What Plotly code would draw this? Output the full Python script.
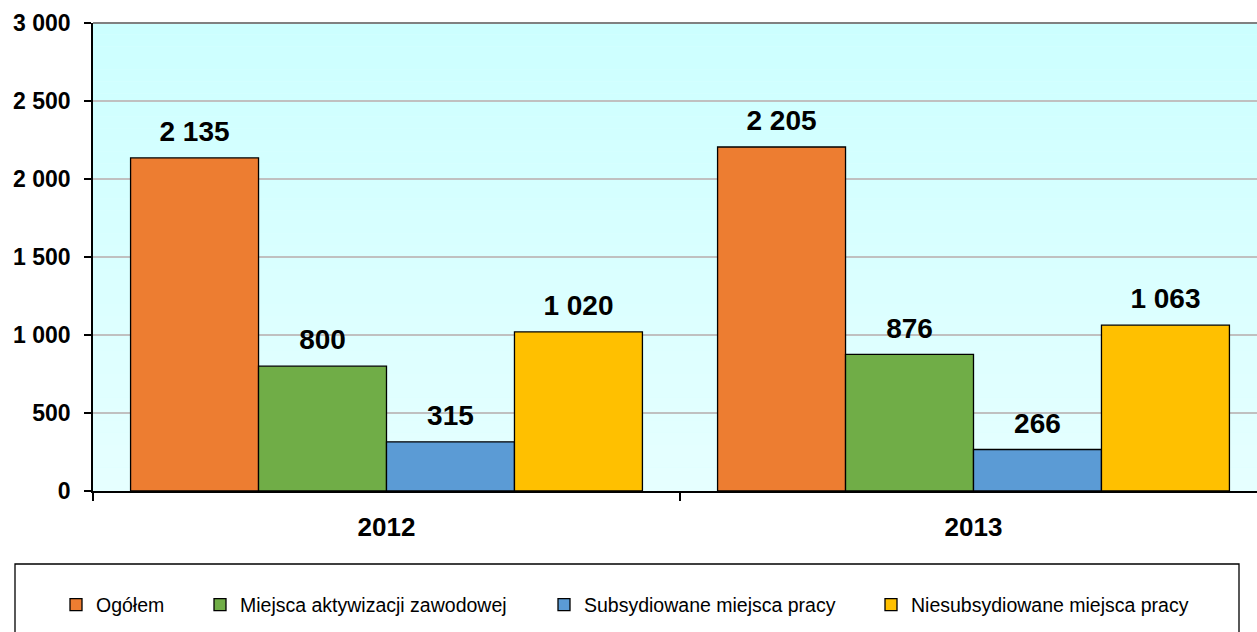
import plotly.graph_objects as go

categories = ["2012", "2013"]
series_names = ["Ogółem", "Miejsca aktywizacji zawodowej", "Subsydiowane miejsca pracy", "Niesubsydiowane miejsca pracy"]
ogolem = [2135, 2205]
aktywizacja = [800, 876]
subsydiowane = [315, 266]
niesubsydiowane = [1020, 1063]
series_values = [ogolem, aktywizacja, subsydiowane, niesubsydiowane]
colors = ["#ED7D31", "#70AD47", "#5B9BD5", "#FFC000"]
y_ticks = [0, 500, 1000, 1500, 2000, 2500, 3000]

FONT = "Arial, Liberation Sans, sans-serif"

# plot geometry (pixels)
W, H = 1257, 632
L, R, T, B = 93, 0, 23, 141
PW, PH = W - L - R, H - T - B

def px_x(px):
    return (px - L) / PW

def px_y(py):
    return (H - B - py) / PH

fig = go.Figure()
legend_ids = ["legend", "legend2", "legend3", "legend4"]
for i, (name, vals, col) in enumerate(zip(series_names, series_values, colors)):
    fig.add_trace(go.Bar(
        x=categories, y=vals, name=name,
        marker=dict(color=col, line=dict(color="black", width=1.3)),
        offsetgroup=str(i), legend=legend_ids[i],
        hoverinfo="skip",
    ))
for i, vals in enumerate(series_values):
    fig.add_trace(go.Scatter(
        x=categories, y=vals, mode="markers+text", offsetgroup=str(i),
        text=[f"{v:,}".replace(",", " ") for v in vals],
        textposition="top center",
        textfont=dict(family=FONT, size=28, color="black", weight="bold"),
        marker=dict(size=14, opacity=0, color="rgba(0,0,0,0)"),
        showlegend=False, hoverinfo="skip", cliponaxis=False,
    ))

# gradient background bands
shapes = []
N = 40
top = (0xCC, 0xFF, 0xFF)
bot = (0xE6, 0xFF, 0xFF)
for k in range(N):
    t = (k + 0.5) / N
    c = tuple(round(bot[j] + (top[j] - bot[j]) * t) for j in range(3))
    shapes.append(dict(type="rect", xref="x domain", yref="y domain",
                       x0=0, x1=1, y0=k / N, y1=(k + 1) / N,
                       fillcolor="rgb(%d,%d,%d)" % c, line=dict(width=0), layer="below"))
# top border line
shapes.append(dict(type="line", xref="x domain", yref="y domain", x0=0, x1=1, y0=1, y1=1,
                   line=dict(color="#808080", width=2)))
# legend box
shapes.append(dict(type="rect", xref="paper", yref="paper",
                   x0=px_x(15), x1=px_x(1239), y0=px_y(564), y1=px_y(660),
                   line=dict(color="black", width=1.3), fillcolor="rgba(0,0,0,0)"))

legend_marker_px = [76, 220, 564, 891]
legend_common = dict(orientation="h", bgcolor="rgba(0,0,0,0)", borderwidth=0,
                     font=dict(family=FONT, size=19.5, color="black"),
                     yanchor="middle", xanchor="left", itemwidth=30)
layout_legends = {}
for lid, mx in zip(legend_ids, legend_marker_px):
    layout_legends[lid] = dict(legend_common, x=px_x(mx - 20), y=px_y(605))

fig.update_layout(
    width=W, height=H,
    margin=dict(l=L, r=R, t=T, b=B, autoexpand=False),
    paper_bgcolor="white", plot_bgcolor="#DDFFFF",
    barmode="group", bargap=0.128, bargroupgap=0,
    scattermode="group", scattergap=0.128,
    separators=". ",
    shapes=shapes,
    font=dict(family=FONT, color="black"),
    **layout_legends,
)
fig.update_xaxes(
    range=[-0.5, -0.5 + PW / 587.0], showline=True, linecolor="black", linewidth=1.5,
    ticks="outside", tickson="boundaries", ticklen=8, tickcolor="black", tickwidth=1.5,
    tickfont=dict(family=FONT, size=26, color="black", weight="bold"),
    ticklabelstandoff=12,
    showgrid=False, fixedrange=True, automargin=False,
)
fig.update_yaxes(
    range=[0, 3000], tickvals=y_ticks, tickformat=",",
    showline=True, linecolor="black", linewidth=1.5,
    ticks="outside", ticklen=7, tickcolor="black", tickwidth=1.5,
    tickfont=dict(family=FONT, size=23, color="black", weight="bold"),
    ticklabelstandoff=9, automargin=False, fixedrange=True,
    showgrid=True, gridcolor="#C0C0C0", gridwidth=1.5, zeroline=False,
)

fig.write_html("out.html", config={"displayModeBar": False},
               post_script="document.body.style.margin='0';")
